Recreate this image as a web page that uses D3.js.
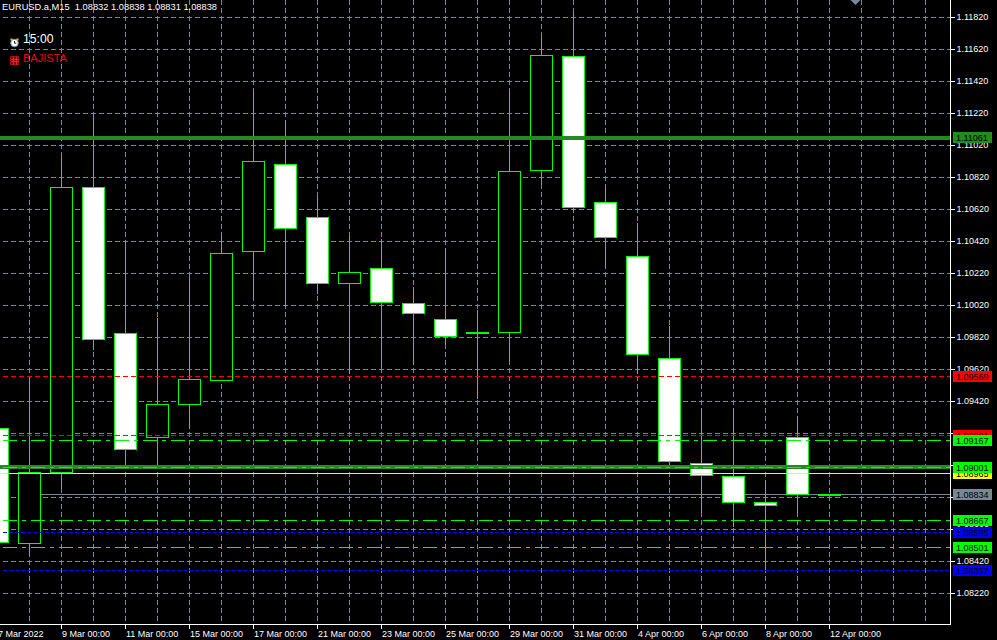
<!DOCTYPE html>
<html>
<head>
<meta charset="utf-8">
<script src="https://cdn.jsdelivr.net/npm/d3@7/dist/d3.min.js"></script>
<style>
html,body{margin:0;padding:0;background:#000;overflow:hidden}
svg{display:block}
text{font-family:"Liberation Sans",Arial,sans-serif}
</style>
</head>
<body>
<svg id="chart" width="997" height="640"></svg>
<script>
const dates = ["7 Mar","8 Mar","9 Mar","10 Mar","11 Mar","14 Mar","15 Mar","16 Mar","17 Mar","18 Mar","21 Mar","22 Mar","23 Mar","24 Mar","25 Mar","28 Mar","29 Mar","30 Mar","31 Mar","1 Apr","4 Apr","5 Apr","6 Apr","7 Apr","8 Apr","11 Apr","12 Apr","13 Apr","14 Apr","15 Apr"];
const opens  = [1.09251,1.08533,1.08976,1.10758,1.09845,1.09195,1.09401,1.09551,1.10358,1.10901,1.10570,1.10158,1.10251,1.10033,1.09933,1.09851,1.09851,1.10864,1.11576,1.10664,1.10326,1.09689,1.09033,1.08951,1.08789,1.09195,1.08832];
const highs  = [1.09300,1.09570,1.10958,1.11214,1.10433,1.09945,1.10201,1.10470,1.11370,1.11183,1.10701,1.10464,1.10439,1.10139,1.10383,1.09995,1.11370,1.11708,1.11851,1.10770,1.10539,1.09895,1.09383,1.09383,1.08933,1.09333,1.08838];
const lows   = [1.08520,1.08464,1.08883,1.09745,1.09008,1.09002,1.09251,1.09551,1.10064,1.10014,1.10095,1.09595,1.09633,1.09651,1.09783,1.09439,1.09670,1.10783,1.10601,1.10264,1.09595,1.09020,1.08726,1.08639,1.08364,1.08720,1.08831];
const closes = [1.08539,1.08976,1.10758,1.09808,1.09120,1.09401,1.09558,1.10345,1.10920,1.10501,1.10158,1.10226,1.10039,1.09970,1.09826,1.09845,1.10858,1.11583,1.10633,1.10445,1.09714,1.09045,1.08958,1.08789,1.08770,1.08839,1.08838];

const priceTicks = [1.11820,1.11620,1.11420,1.11220,1.11020,1.10820,1.10620,1.10420,1.10220,1.10020,1.09820,1.09620,1.09420,1.09220,1.09020,1.08820,1.08620,1.08420,1.08220];
const dateTickIndex = [0,2,4,6,8,10,12,14,16,18,20,22,24,26];
const dateTickLabels = ["7 Mar 2022","9 Mar 00:00","11 Mar 00:00","15 Mar 00:00","17 Mar 00:00","21 Mar 00:00","23 Mar 00:00","25 Mar 00:00","29 Mar 00:00","31 Mar 00:00","4 Apr 00:00","6 Apr 00:00","8 Apr 00:00","12 Apr 00:00"];

const dashedLevels = [1.09569,1.09201,1.09167,1.09001,1.08667,1.08595,1.08501,1.08357];
const dashedKinds  = ["red","red","lime","lime","lime","blue","lime","blue"];
const thickLevels  = [1.11061,1.09001];
const yellowLevel  = 1.08965;
const bidLevel     = 1.08834;
const tagValues    = [1.11061,1.09569,1.09201,1.09167,1.08965,1.09001,1.08834,1.08667,1.08595,1.08501,1.08357];
const tagColors    = ["#228B22","#ff0000","#ff0000","#00ff00","#ffff00","#00ff00","#778899","#00ff00","#0000ff","#00ff00","#0000ff"];

const headerText = "EURUSD.a,M15  1.08832 1.08838 1.08831 1.08838";

const W = 997, H = 640, plotR = 950.5, plotB = 624.5;
const svg = d3.select("#chart");
svg.append("rect").attr("width",W).attr("height",H).attr("fill","#000");

const x = d3.scaleLinear().domain([0,26]).range([-2.5,829.5]);
const y = d3.scaleLinear().domain([1.11820,1.08220]).range([17.5,593.5]);
const snap = v => Math.round(v-0.5)+0.5;
const yc = v => snap(y(v));
const yl = v => Math.floor(y(v)-1)+0.5;

const crisp = g => g.attr("shape-rendering","crispEdges");
const GRID = "#778899", LIME = "#00ff00";

const grid = svg.append("g").call(crisp).attr("stroke",GRID).attr("stroke-dasharray","5,3");
grid.selectAll("line.h").data(priceTicks).join("line").attr("class","h")
  .attr("x1",3).attr("x2",plotR).attr("y1",yc).attr("y2",yc);
grid.selectAll("line.v").data(d3.range(1,dates.length)).join("line").attr("class","v")
  .attr("x1",x).attr("x2",x).attr("y1",0).attr("y2",plotB);

svg.append("line").call(crisp).attr("x1",x(1)+11).attr("x2",plotR).attr("y1",yl(bidLevel)).attr("y2",yl(bidLevel)).attr("stroke",GRID);

const idx = d3.range(opens.length);
const candles = svg.append("g").call(crisp);
candles.selectAll("line").data(idx).join("line")
  .attr("x1",x).attr("x2",x)
  .attr("y1",i=>yc(highs[i])).attr("y2",i=>yc(lows[i]))
  .attr("stroke",LIME);
candles.selectAll("rect").data(idx).join("rect")
  .attr("x",i=>x(i)-11).attr("width",22)
  .attr("y",i=>yc(Math.max(opens[i],closes[i])))
  .attr("height",i=>yc(Math.min(opens[i],closes[i]))-yc(Math.max(opens[i],closes[i])))
  .attr("fill",i=>closes[i]>=opens[i]?"#000":"#fff")
  .attr("stroke",LIME);

const thick = svg.append("g").call(crisp);
thick.selectAll("rect").data(thickLevels).join("rect")
  .attr("x",0).attr("width",plotR).attr("height",4)
  .attr("y",v=>Math.round(y(v)-1.1)-2)
  .attr("fill","#228B22");

svg.append("line").call(crisp).attr("x1",0).attr("x2",plotR).attr("y1",yl(yellowLevel)).attr("y2",yl(yellowLevel)).attr("stroke","#ffff00");

const kindStyle = {red:["#ff0000","5,3"],lime:["#00ff00","14,5,4,5"],blue:["#0000ff","4,2"]};
svg.append("g").call(crisp).selectAll("line").data(dashedLevels).join("line")
  .attr("x1",3).attr("x2",plotR).attr("y1",yl).attr("y2",yl)
  .attr("stroke",(d,i)=>kindStyle[dashedKinds[i]][0])
  .attr("stroke-dasharray",(d,i)=>kindStyle[dashedKinds[i]][1]);

const axR = d3.axisRight(y).tickValues(priceTicks).tickFormat(d3.format(".5f")).tickSize(4).tickPadding(2).offset(0);
const gR = svg.append("g").attr("transform",`translate(${plotR},0)`).call(axR);
gR.select(".domain").remove();
gR.selectAll("line").attr("stroke","#fff").attr("shape-rendering","crispEdges");
gR.selectAll("text").attr("fill","#fff").attr("font-size",9).attr("font-family",'"Liberation Sans"');

const axB = d3.axisBottom(x).tickValues(dateTickIndex).tickFormat((d,i)=>dateTickLabels[i]).tickSize(4).tickPadding(2).offset(0);
const gB = svg.append("g").attr("transform",`translate(0,${plotB})`).call(axB);
gB.select(".domain").remove();
gB.selectAll("line").attr("stroke","#fff").attr("shape-rendering","crispEdges");
gB.selectAll("text").attr("fill","#fff").attr("font-size",9).attr("font-family",'"Liberation Sans"').attr("text-anchor","start").attr("dx",0.5).attr("dy",null).attr("y",12.5);

const border = svg.append("g").call(crisp).attr("stroke","#fff");
border.append("line").attr("x1",plotR).attr("x2",plotR).attr("y1",0).attr("y2",plotB+0.5);
border.append("line").attr("x1",0).attr("x2",plotR).attr("y1",plotB).attr("y2",plotB);

const tags = svg.append("g");
tagValues.forEach((v,i)=>{
  const c = yl(v);
  tags.append("rect").attr("x",953).attr("width",39).attr("y",c-5.5).attr("height",11).attr("fill",tagColors[i]).attr("shape-rendering","crispEdges");
  tags.append("text").attr("x",956).attr("y",c+3.5).attr("font-size",9).attr("fill","#000").text(d3.format(".5f")(v));
});

svg.append("text").attr("x",2).attr("y",9.5).attr("font-size",9.3).attr("fill","#fff").attr("xml:space","preserve").style("white-space","pre").text(headerText);
svg.append("text").attr("x",23).attr("y",43).attr("font-size",12.2).attr("fill","#fff").text("15:00");
svg.append("text").attr("x",23).attr("y",62).attr("font-size",11).attr("fill","#f00000").text("BAJISTA");

const clock = svg.append("g");
clock.append("circle").attr("cx",14.5).attr("cy",43).attr("r",3.8).attr("fill","#fff").attr("stroke","#6f8fa8");
clock.append("circle").attr("cx",11.5).attr("cy",39.5).attr("r",1.2).attr("fill","#d9a24a");
clock.append("circle").attr("cx",17.5).attr("cy",39.5).attr("r",1.2).attr("fill","#d9a24a");
clock.append("path").attr("d","M14.5 41v2.2h1.8").attr("stroke","#222").attr("fill","none");

const cal = svg.append("g").call(crisp);
cal.append("rect").attr("x",10.5).attr("y",56.5).attr("width",8).attr("height",8).attr("fill","#8a0000").attr("stroke","#a01010");
cal.selectAll("line.a").data([59,61.5]).join("line").attr("x1",10.5).attr("x2",18.5).attr("y1",d=>d).attr("y2",d=>d).attr("stroke","#d03030");
cal.selectAll("line.b").data([13.5,16]).join("line").attr("x1",d=>d).attr("x2",d=>d).attr("y1",56.5).attr("y2",64.5).attr("stroke","#d03030");

svg.append("path").attr("d",d3.line()([[850.5,0],[860.5,0],[855.5,5]])+"Z").attr("fill",GRID);
</script>
</body>
</html>
